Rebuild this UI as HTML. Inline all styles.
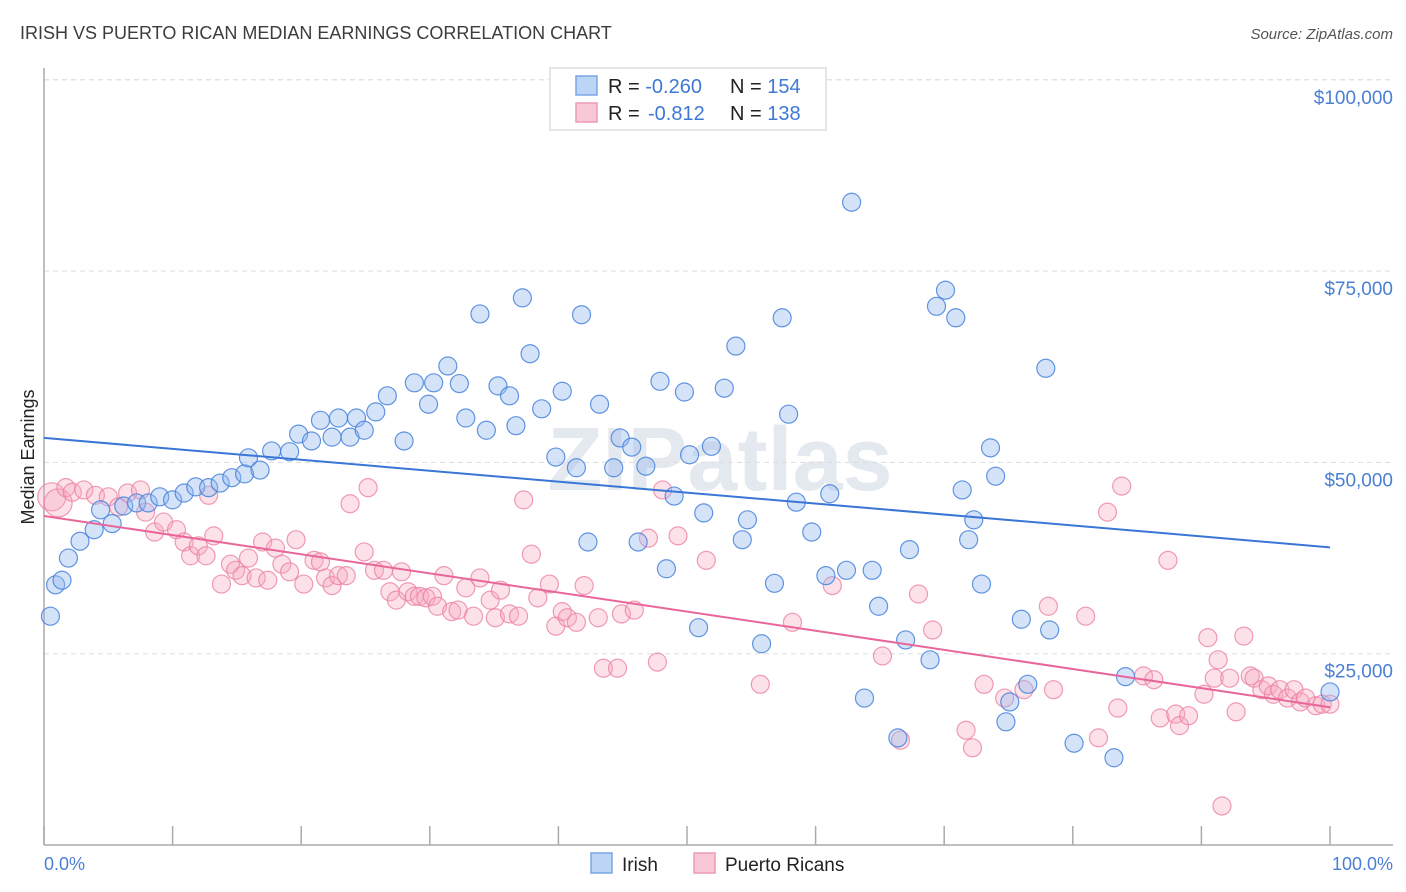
<!DOCTYPE html>
<html><head><meta charset="utf-8"><style>
body{margin:0;background:#fff;font-family:"Liberation Sans",sans-serif;}
#wrap{position:relative;width:1406px;height:892px;overflow:hidden;}
</style></head><body>
<div id="wrap">
<svg id="svg" width="1406" height="892" xmlns="http://www.w3.org/2000/svg">
<text x="20" y="39" font-size="18" fill="#3c3c3c">IRISH VS PUERTO RICAN MEDIAN EARNINGS CORRELATION CHART</text>
<text x="1393" y="39" font-size="15" fill="#555" font-style="italic" text-anchor="end">Source: ZipAtlas.com</text>
<text x="720" y="490" font-size="90" fill="#e4e8ef" text-anchor="middle" font-weight="bold">ZIPatlas</text>
<g id="grid"></g>
<line x1="44" y1="68" x2="44" y2="845" stroke="#aaa" stroke-width="1.5"/>
<line x1="44" y1="845" x2="1393" y2="845" stroke="#aaa" stroke-width="1.5"/>
<g id="xticks"></g>
<g id="pts"></g>
<g id="trend"></g>
<text transform="translate(34,457) rotate(-90)" font-size="18" fill="#222" text-anchor="middle">Median Earnings</text>
<text x="44" y="870" font-size="18" fill="#4a7fd4">0.0%</text>
<text x="1393" y="870" font-size="18" fill="#4a7fd4" text-anchor="end">100.0%</text>
<g>
<rect x="550" y="68" width="276" height="62" fill="#fff" stroke="#ddd" stroke-width="1.5"/>
<rect x="576" y="76" width="21" height="19" fill="#bcd4f6" stroke="#7aa6e6" stroke-width="1.5"/>
<rect x="576" y="103" width="21" height="19" fill="#f9c8d6" stroke="#ee9ab4" stroke-width="1.5"/>
<text x="608" y="93" font-size="20" fill="#222">R = <tspan fill="#3f78d6">-0.260</tspan><tspan x="730">N = </tspan><tspan fill="#3f78d6">154</tspan></text>
<text x="608" y="120" font-size="20" fill="#222">R = <tspan x="648" fill="#3f78d6">-0.812</tspan><tspan x="730">N = </tspan><tspan fill="#3f78d6">138</tspan></text>
</g>
<g>
<rect x="591" y="853" width="21" height="20" fill="#bcd4f6" stroke="#7aa6e6" stroke-width="1.5"/>
<text x="622" y="871" font-size="19" fill="#222">Irish</text>
<rect x="694" y="853" width="21" height="20" fill="#f9c8d6" stroke="#ee9ab4" stroke-width="1.5"/>
<text x="725" y="871" font-size="19" fill="#222">Puerto Ricans</text>
</g>
</svg>
</div>
<script>
const yTicks=[25000,50000,75000,100000];
const yTickLabels=["$25,000","$50,000","$75,000","$100,000"];
const xTicks=[0,10,20,30,40,50,60,70,80,90,100];
const irishX=[0.5,0.9,1.4,1.9,2.8,3.9,4.4,5.3,6.2,7.2,8.1,9.0,10.0,10.9,11.8,12.8,13.7,14.6,15.6,15.9,16.8,17.7,19.1,19.8,20.8,21.5,22.4,22.9,23.8,24.3,24.9,25.8,26.7,28.0,28.8,29.9,30.3,31.4,32.3,32.8,33.9,34.4,35.3,36.2,36.7,37.2,37.8,38.7,39.8,40.3,41.4,41.8,42.3,43.2,44.3,44.8,45.7,46.2,46.8,47.9,48.4,49.0,49.8,50.2,50.9,51.3,51.9,52.9,53.8,54.3,54.7,55.8,56.8,57.4,57.9,58.5,59.7,60.8,61.1,62.4,62.8,63.8,64.4,64.9,66.4,67.0,67.3,68.9,69.4,70.1,70.9,71.4,71.9,72.3,72.9,73.6,74.0,74.8,75.1,76.0,76.5,77.9,78.2,80.1,83.2,84.1,100];
const irishY=[29.9,34.0,34.6,37.5,39.7,41.2,43.8,42.0,44.3,44.7,44.7,45.5,45.1,46.0,46.8,46.7,47.3,48.0,48.5,50.6,49.0,51.5,51.4,53.7,52.8,55.5,53.3,55.8,53.3,55.8,54.2,56.6,58.7,52.8,60.4,57.6,60.4,62.6,60.3,55.8,69.4,54.2,60.0,58.7,54.8,71.5,64.2,57.0,50.7,59.3,49.3,69.3,39.6,57.6,49.3,53.2,52.0,39.6,49.5,60.6,36.1,45.6,59.2,51.0,28.4,43.4,52.1,59.7,65.2,39.9,42.5,26.3,34.2,68.9,56.3,44.8,40.9,35.2,45.9,35.9,84.0,19.2,35.9,31.2,14.0,26.8,38.6,24.2,70.4,72.5,68.9,46.4,39.9,42.5,34.1,51.9,48.2,16.1,18.7,29.5,21.0,62.3,28.1,13.3,11.4,22.0,20.0];
const prX=[0.6,1.1,1.7,2.2,3.1,4.0,5.0,5.8,6.5,7.5,7.9,8.6,9.3,10.3,10.9,11.4,12.0,12.6,12.8,13.2,13.8,14.5,14.9,15.4,15.9,16.5,17.0,17.4,18.0,18.5,19.1,19.6,20.2,21.0,21.5,21.9,22.4,22.9,23.5,23.8,24.9,25.2,25.7,26.4,26.9,27.4,27.8,28.3,28.8,29.2,29.7,30.2,30.6,31.1,31.7,32.2,32.8,33.4,33.9,34.7,35.1,35.5,36.2,36.9,37.3,37.9,38.4,39.3,39.8,40.3,40.7,41.4,42.0,43.1,43.5,44.6,44.9,45.9,47.0,47.7,48.1,49.3,51.5,55.7,58.2,61.3,65.2,66.6,68.0,69.1,71.7,72.2,73.1,74.7,76.2,78.1,78.5,81.0,82.0,82.7,83.5,83.8,85.5,86.3,86.8,87.4,88.0,88.3,89.0,90.2,90.5,91.0,91.3,91.6,92.2,92.7,93.3,93.8,94.1,94.7,95.2,95.6,96.1,96.7,97.2,97.7,98.1,98.9,99.4,100];
const prY=[45.5,44.7,46.7,46.1,46.4,45.7,45.5,44.2,46.0,46.4,43.5,40.9,42.2,41.2,39.6,37.8,39.1,37.8,45.7,40.4,34.1,36.7,35.9,35.2,37.5,34.9,39.6,34.6,38.8,36.7,35.7,39.9,34.1,37.2,37.0,34.9,33.9,35.2,35.2,44.6,38.3,46.7,35.9,35.9,33.1,32.0,35.7,33.1,32.5,32.5,32.3,32.5,31.2,35.2,30.5,30.7,33.6,29.9,34.9,32.0,29.7,33.3,30.2,29.9,45.1,38.0,32.3,34.1,28.6,30.5,29.7,29.1,33.9,29.7,23.1,23.1,30.2,30.7,40.1,23.9,46.4,40.4,37.2,21.0,29.1,33.9,24.7,13.7,32.8,28.1,15.0,12.7,21.0,19.2,20.3,31.2,20.3,29.9,14.0,43.5,17.9,46.9,22.1,21.6,16.6,37.2,17.1,15.6,16.9,19.7,27.1,21.8,24.2,5.1,21.8,17.4,27.3,22.1,21.8,20.3,20.8,19.7,20.3,19.2,20.3,18.7,19.2,18.2,18.4,18.4];
const irishTrend=[53.2,38.9];
const prTrend=[43.0,18.0];
const NS="http://www.w3.org/2000/svg";
function sx(p){return 44+p*12.86;}
function sy(v){return 845-v/25000*191.3;}
function mk(t,a,parent){const e=document.createElementNS(NS,t);for(const k in a)e.setAttribute(k,a[k]);parent.appendChild(e);return e;}
const grid=document.getElementById('grid');
yTicks.forEach((v,i)=>{
 const l=mk('line',{x1:44,x2:1393,y1:sy(v),y2:sy(v),stroke:'#ddd','stroke-dasharray':'5,4'},grid);
 
 
 const t=mk('text',{x:1393,y:sy(v)+24,'font-size':19,fill:'#4a7fd4','text-anchor':'end'},grid);
 t.textContent=yTickLabels[i];
 
 
});
const gl=mk('line',{x1:44,x2:1393,y1:sy(100000)-0,y2:sy(100000),stroke:'#ddd','stroke-dasharray':'5,4'},grid);
const xt=document.getElementById('xticks');
xTicks.forEach(p=>{
 const l=mk('line',{x1:sx(p),x2:sx(p),y1:826,y2:845,stroke:'#aaa','stroke-width':1.5},xt);
 
 
});
const pts=document.getElementById('pts');
prX.forEach((x,i)=>{
 const c=mk('circle',{cx:sx(x),cy:sy(prY[i]*1000),r:i<2?14:9,fill:'rgba(246,170,192,0.35)',stroke:'rgba(236,130,162,0.8)','stroke-width':1.2},pts);
 
 
});
irishX.forEach((x,i)=>{
 const c=mk('circle',{cx:sx(x),cy:sy(irishY[i]*1000),r:9,fill:'rgba(150,186,240,0.4)',stroke:'rgba(70,130,220,0.85)','stroke-width':1.2},pts);
 
 
});
const tr=document.getElementById('trend');
const l1=mk('line',{x1:sx(0),y1:sy(irishTrend[0]*1000),x2:sx(100),y2:sy(irishTrend[1]*1000),stroke:'#3a76d6','stroke-width':2},tr);


const l2=mk('line',{x1:sx(0),y1:sy(prTrend[0]*1000),x2:sx(100),y2:sy(prTrend[1]*1000),stroke:'#e8669a','stroke-width':2},tr);


</script>
</body></html>
